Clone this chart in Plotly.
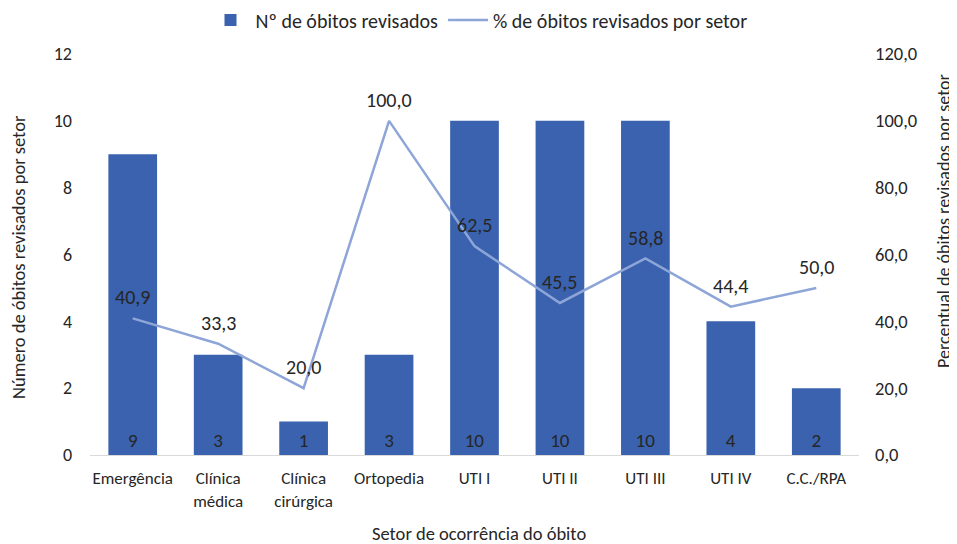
import plotly.graph_objects as go

categories = ["Emergência", "Clínica<br>médica", "Clínica<br>cirúrgica", "Ortopedia",
              "UTI I", "UTI II", "UTI III", "UTI IV", "C.C./RPA"]
obitos = [9, 3, 1, 3, 10, 10, 10, 4, 2]
percentual = [40.9, 33.3, 20.0, 100.0, 62.5, 45.5, 58.8, 44.4, 50.0]
left_ticks = [0, 2, 4, 6, 8, 10, 12]
right_ticks = [0, 20, 40, 60, 80, 100, 120]

FONT = "Carlito, Calibri, Lato, sans-serif"
TXT = "#262626"

# page body has an 8px offset: screen = figure + 8
OFF = 8
W, H = 957, 544
L = 90 - OFF
T = 54 - OFF
R = W - (859 - OFF)
B = H - (455 - OFF)
pw, ph = W - L - R, H - T - B


def px_x(sx):
    return (sx - OFF - L) / pw


def px_y(sy):
    return (H - B - (sy - OFF)) / ph


fig = go.Figure()
fig.add_trace(go.Bar(
    x=categories, y=obitos, name="Nº de óbitos revisados",
    marker=dict(color="#3A62AE", line=dict(width=0)),
    width=0.57,
    text=[str(v) for v in obitos], textposition="inside",
    insidetextanchor="start", textangle=0,
    textfont=dict(color=TXT, size=19, family=FONT),
    yaxis="y",
))
fig.add_trace(go.Scatter(
    x=categories, y=percentual, name="% de óbitos revisados por setor",
    mode="lines", line=dict(color="#8EA5D8", width=2.5),
    yaxis="y2", cliponaxis=False,
))

annotations = []
for c, v in zip(categories, percentual):
    annotations.append(dict(x=c, y=v, xref="x", yref="y2",
                            text=f"{v:.1f}".replace(".", ","), showarrow=False,
                            yshift=21, font=dict(size=20, color=TXT, family=FONT)))
annotations += [
    dict(text="Setor de ocorrência do óbito", x=px_x(479), y=px_y(533),
         xref="paper", yref="paper", xanchor="center", yanchor="middle",
         showarrow=False, borderpad=0, font=dict(size=18.5, color=TXT)),
    dict(text="Número de óbitos revisados por setor", x=px_x(18), y=px_y(257),
         xref="paper", yref="paper", xanchor="center", yanchor="middle",
         textangle=-90, showarrow=False, borderpad=0, font=dict(size=18.5, color=TXT)),
    dict(text="Percentual de óbitos revisados por setor", x=px_x(944), y=px_y(221),
         xref="paper", yref="paper", xanchor="center", yanchor="middle",
         textangle=-90, showarrow=False, borderpad=0, font=dict(size=18, color=TXT)),
]

fig.update_layout(
    width=W, height=H,
    margin=dict(l=L, r=R, t=T, b=B, autoexpand=False),
    paper_bgcolor="white", plot_bgcolor="white",
    font=dict(family=FONT, size=18, color=TXT),
    separators=",.",
    showlegend=True,
    legend=dict(orientation="h", x=px_x(479), xanchor="center", y=px_y(20),
                yanchor="middle", font=dict(size=20, color=TXT),
                itemwidth=40, tracegroupgap=0),
    annotations=annotations,
    xaxis=dict(showgrid=False, showline=True, linecolor="#D9D9D9", linewidth=1,
               ticks="", tickfont=dict(size=17, color=TXT),
               ticklabelstandoff=8, automargin=False),
    yaxis=dict(range=[0, 12], tickvals=left_ticks, showgrid=False, zeroline=False,
               showline=False, ticks="", tickfont=dict(size=18, color=TXT),
               ticklabelstandoff=17, automargin=False),
    yaxis2=dict(range=[0, 120], tickvals=right_ticks, tickformat=".1f",
                overlaying="y", side="right", showgrid=False, zeroline=False,
                showline=False, ticks="", tickfont=dict(size=18.5, color=TXT),
                ticklabelstandoff=15, automargin=False),
)

fig.write_html("out.html")
